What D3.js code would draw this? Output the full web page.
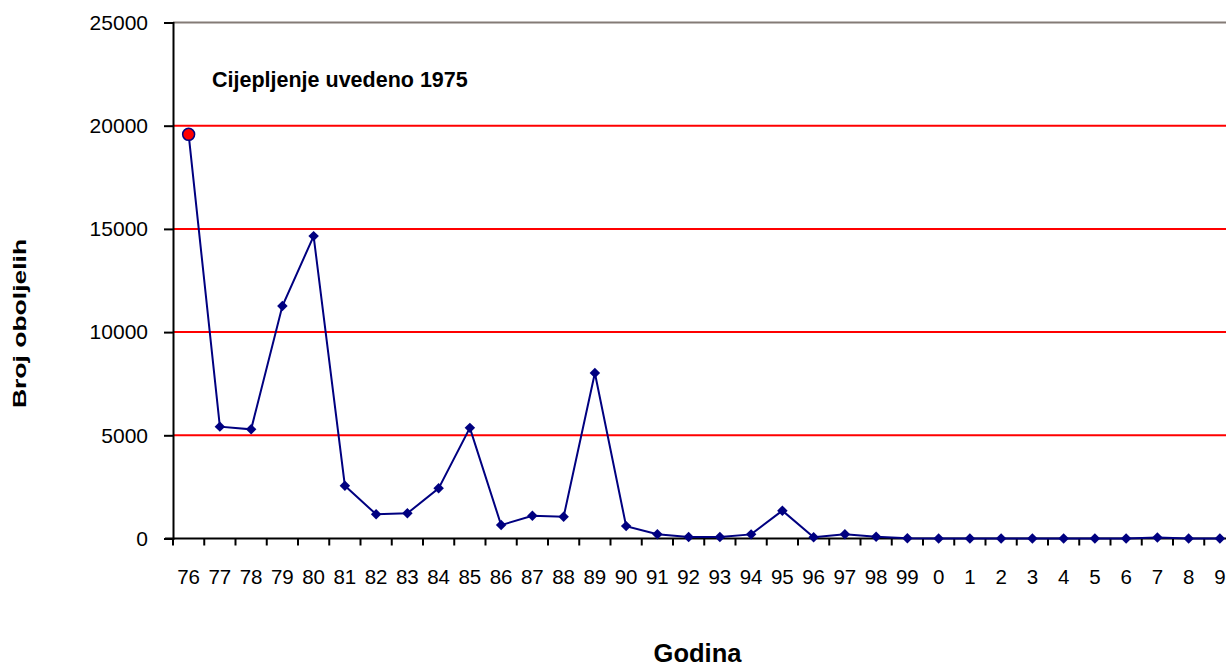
<!DOCTYPE html>
<html>
<head>
<meta charset="utf-8">
<script src="https://cdn.jsdelivr.net/npm/d3@7"></script>
<style>
  body { margin: 0; background: #fff; }
  svg { display: block; font-family: "Liberation Sans", Arial, sans-serif; }
</style>
</head>
<body>
<div id="chart"></div>
<script>
// Godine (dvoznamenkasto, kao na izvorniku)
const years = ['76', '77', '78', '79', '80', '81', '82', '83', '84', '85', '86', '87', '88', '89',
  '90', '91', '92', '93', '94', '95', '96', '97', '98', '99', '0', '1', '2', '3', '4', '5', '6', '7', '8', '9'];

// Broj oboljelih po godini (procijenjeno s grafa)
const cases = [19580, 5420, 5290, 11260, 14650, 2560, 1170, 1220, 2430, 5360, 650, 1100, 1050, 8020,
  600, 210, 75, 75, 200, 1350, 60, 210, 90, 10, 5, 5, 5, 5, 5, 5, 5, 45, 5, 5];

const yTicks = [0, 5000, 10000, 15000, 20000, 25000];
const gridValues = [5000, 10000, 15000, 20000];

const width = 1226;
const height = 668;
const margin = { top: 22.5, left: 173 };
const plotW = 34 * 31.25; // runs past the right edge, like the original
const plotH = 516;

const svg = d3.select('#chart').append('svg')
  .attr('width', width)
  .attr('height', height);

const x = d3.scaleBand()
  .domain(years)
  .range([margin.left, margin.left + plotW]);

const y = d3.scaleLinear()
  .domain([0, 25000])
  .range([margin.top + plotH, margin.top]);

// Gridlines
svg.append('g')
  .selectAll('line')
  .data(gridValues)
  .join('line')
  .attr('x1', margin.left)
  .attr('x2', margin.left + plotW)
  .attr('y1', (d) => y(d))
  .attr('y2', (d) => y(d))
  .attr('stroke', '#ff0000')
  .attr('stroke-width', 2);

// Top border line at 25000
svg.append('line')
  .attr('x1', margin.left)
  .attr('x2', margin.left + plotW)
  .attr('y1', y(25000))
  .attr('y2', y(25000))
  .attr('stroke', '#847b76')
  .attr('stroke-width', 2);

// Y axis
const yAxis = d3.axisLeft(y).tickValues(yTicks).tickSize(9).tickPadding(16).tickFormat(d3.format('d'));
const gy = svg.append('g')
  .attr('transform', `translate(${margin.left},0)`)
  .call(yAxis);
gy.select('.domain').attr('stroke', '#000').attr('stroke-width', 2);
gy.selectAll('.tick line').attr('stroke', '#000').attr('stroke-width', 2);
gy.selectAll('.tick text').attr('font-size', 21).attr('fill', '#000');

// X axis: ticks sit on category boundaries
const boundaries = d3.range(years.length + 1).map((i) => margin.left + i * x.step());
const gx = svg.append('g');
gx.append('line')
  .attr('x1', margin.left - 8)
  .attr('x2', margin.left + plotW)
  .attr('y1', y(0))
  .attr('y2', y(0))
  .attr('stroke', '#000')
  .attr('stroke-width', 2);
gx.selectAll('.xt')
  .data(boundaries)
  .join('line')
  .attr('class', 'xt')
  .attr('x1', (d) => d)
  .attr('x2', (d) => d)
  .attr('y1', y(0))
  .attr('y2', y(0) + 7)
  .attr('stroke', '#000')
  .attr('stroke-width', 2);
gx.selectAll('text')
  .data(years)
  .join('text')
  .attr('x', (d) => x(d) + x.bandwidth() / 2)
  .attr('y', y(0) + 45.5)
  .attr('text-anchor', 'middle')
  .attr('font-size', 20.5)
  .attr('fill', '#000')
  .text((d) => d);

// Line
const line = d3.line()
  .x((d, i) => x(years[i]) + x.bandwidth() / 2)
  .y((d) => y(d));

svg.append('path')
  .datum(cases)
  .attr('fill', 'none')
  .attr('stroke', '#000080')
  .attr('stroke-width', 2)
  .attr('d', line);

// Diamond markers (skip the first point, drawn as a red circle)
svg.append('g')
  .selectAll('path')
  .data(cases.slice(1))
  .join('path')
  .attr('d', d3.symbol().type(d3.symbolDiamond2).size(70))
  .attr('transform', (d, i) => `translate(${x(years[i + 1]) + x.bandwidth() / 2},${y(d)})`)
  .attr('fill', '#000080');

svg.append('circle')
  .attr('cx', x(years[0]) + x.bandwidth() / 2)
  .attr('cy', y(cases[0]))
  .attr('r', 6)
  .attr('fill', '#ff0000')
  .attr('stroke', '#000080')
  .attr('stroke-width', 1.5);

// Annotation
svg.append('text')
  .attr('x', 212)
  .attr('y', 87)
  .attr('font-size', 21.5)
  .attr('font-weight', 'bold')
  .attr('fill', '#000')
  .text('Cijepljenje uvedeno 1975');

// Axis titles (the y title is squeezed across its thickness in the original)
svg.append('text')
  .attr('transform', 'translate(25.5,323.5) rotate(-90) scale(1,0.67)')
  .attr('text-anchor', 'middle')
  .attr('font-size', 26.5)
  .attr('font-weight', 'bold')
  .attr('fill', '#000')
  .text('Broj oboljelih');

svg.append('text')
  .attr('x', 697.5)
  .attr('y', 662)
  .attr('text-anchor', 'middle')
  .attr('font-size', 25.5)
  .attr('font-weight', 'bold')
  .attr('fill', '#000')
  .text('Godina');
</script>
</body>
</html>
